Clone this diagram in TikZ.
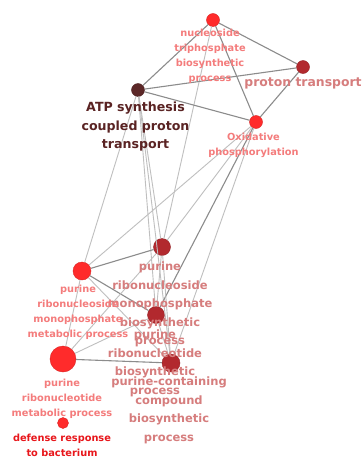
\documentclass[tikz,border=0pt]{standalone}
\usepackage{fontspec}
\setmainfont{DejaVu Sans}
\usetikzlibrary{positioning}

\definecolor{termred}{HTML}{FF2B2B}
\definecolor{termdark}{HTML}{B2292E}
\definecolor{termbrown}{HTML}{5C2828}
\definecolor{labpink}{HTML}{F47C7C}
\definecolor{labrose}{HTML}{D67D7D}
\definecolor{labbrown}{HTML}{5A2323}
\definecolor{labred}{HTML}{E8161B}

\tikzset{
  term/.style={circle, inner sep=0pt, minimum size=#1, line width=0.4pt},
  smalllab/.style={align=center, inner sep=0pt, text=labpink,
                   font=\fontsize{9.8}{15}\selectfont\bfseries},
  biglab/.style={align=center, inner sep=0pt, text=labrose,
                 font=\fontsize{11.5}{18.5}\selectfont\bfseries},
  link/.style={draw=black!45, line width=1.1pt},
  faintlink/.style={draw=black!25, line width=0.9pt}
}

\begin{document}
\begin{tikzpicture}[x=1pt,y=-1pt]
  \fill[white] (0,0) rectangle (364,458);
  \useasboundingbox (0,0) rectangle (364,458);

  % terms
  \node (nucTriphos)  [term=13pt, fill=termred, draw=termred!85!black]     at (213,20)  {};
  \node (protonTrans) [term=13pt, fill=termdark, draw=termdark!85!black]   at (303,67)  {};
  \node (atpSynth)    [term=13pt, fill=termbrown, draw=termbrown!85!black] at (138,90)  {};
  \node (oxPhos)      [term=13pt, fill=termred, draw=termred!85!black]     at (256,122) {};
  \node (purRnsMpBio) [term=17pt, fill=termdark, draw=termdark!85!black]   at (162,247) {};
  \node (purRnsMpMet) [term=18pt, fill=termred, draw=termred!85!black]     at (82,271)  {};
  \node (purRntBio)   [term=17pt, fill=termdark, draw=termdark!85!black]   at (156,315) {};
  \node (purContBio)  [term=18pt, fill=termdark, draw=termdark!85!black]   at (171,363) {};
  \node (purRntMet)   [term=26pt, fill=termred, draw=termred!85!black]     at (63,359)  {};
  \node (defBact)     [term=11pt, fill=termred, draw=termred!85!black]     at (63,423)  {};

  % similarity links
  \draw[link] (nucTriphos) -- (protonTrans);
  \draw[link] (nucTriphos) -- (atpSynth);
  \draw[link] (nucTriphos) -- (oxPhos);
  \draw[faintlink] (nucTriphos) -- (purRnsMpBio);
  \draw[link] (atpSynth) -- (protonTrans);
  \draw[link] (protonTrans) -- (oxPhos);
  \draw[link] (atpSynth) -- (oxPhos);
  \draw[faintlink] (atpSynth) -- (purRnsMpBio);
  \draw[faintlink] (atpSynth) -- (purRnsMpMet);
  \draw[faintlink] (atpSynth) -- (purRntBio);
  \draw[faintlink] (atpSynth) -- (purContBio);
  \draw[faintlink] (oxPhos) -- (purRnsMpBio);
  \draw[faintlink] (oxPhos) -- (purRnsMpMet);
  \draw[link] (oxPhos) -- (purRntBio);
  \draw[faintlink] (oxPhos) -- (purContBio);
  \draw[link] (purRnsMpMet) -- (purRnsMpBio);
  \draw[link] (purRnsMpMet) -- (purRntBio);
  \draw[faintlink] (purRnsMpMet) -- (purContBio);
  \draw[faintlink] (purRnsMpMet) -- (purRntMet);
  \draw[faintlink] (purRnsMpBio) -- (purRntBio);
  \draw[faintlink] (purRnsMpBio) -- (purContBio);
  \draw[faintlink] (purRntMet) -- (purRnsMpBio);
  \draw[faintlink] (purRntBio) -- (purContBio);
  \draw[faintlink] (purRntMet) -- (purRntBio);
  \draw[link] (purRntMet) -- (purContBio);

  % labels
  \node (nucTriphosLab) [smalllab, below=1.7pt of nucTriphos, xshift=-3pt]
        {nucleoside\\triphosphate\\biosynthetic\\process};
  \node (protonTransLab) [biglab, below=3.5pt of protonTrans,
        font=\fontsize{12.4}{18.5}\selectfont\bfseries]
        {proton transport};
  \node (atpSynthLab) [biglab, below=5.5pt of atpSynth, xshift=-2.5pt, text=labbrown,
        font=\fontsize{12.6}{18.5}\selectfont\bfseries]
        {ATP synthesis\\coupled proton\\transport};
  \node (oxPhosLab) [smalllab, below=3.7pt of oxPhos, xshift=-2.5pt]
        {Oxidative\\phosphorylation};
  \node (purRnsMpBioLab) [biglab, below=6pt of purRnsMpBio, xshift=-2pt]
        {purine\\ribonucleoside\\monophosphate\\biosynthetic\\process};
  \node (purRnsMpMetLab) [smalllab, below=4.2pt of purRnsMpMet, xshift=-4pt]
        {purine\\ribonucleoside\\monophosphate\\metabolic process};
  \node (purRntBioLab) [biglab, below=6pt of purRntBio, xshift=-1pt]
        {purine\\ribonucleotide\\biosynthetic\\process};
  \node (purContBioLab) [biglab, below=4.4pt of purContBio, xshift=-2pt]
        {purine-containing\\compound\\biosynthetic\\process};
  \node (purRntMetLab) [smalllab, below=6.2pt of purRntMet, xshift=-1pt]
        {purine\\ribonucleotide\\metabolic process};
  \node (defBactLab) [smalllab, below=4.7pt of defBact, xshift=-1pt, text=labred]
        {defense response\\to bacterium};
\end{tikzpicture}
\end{document}
